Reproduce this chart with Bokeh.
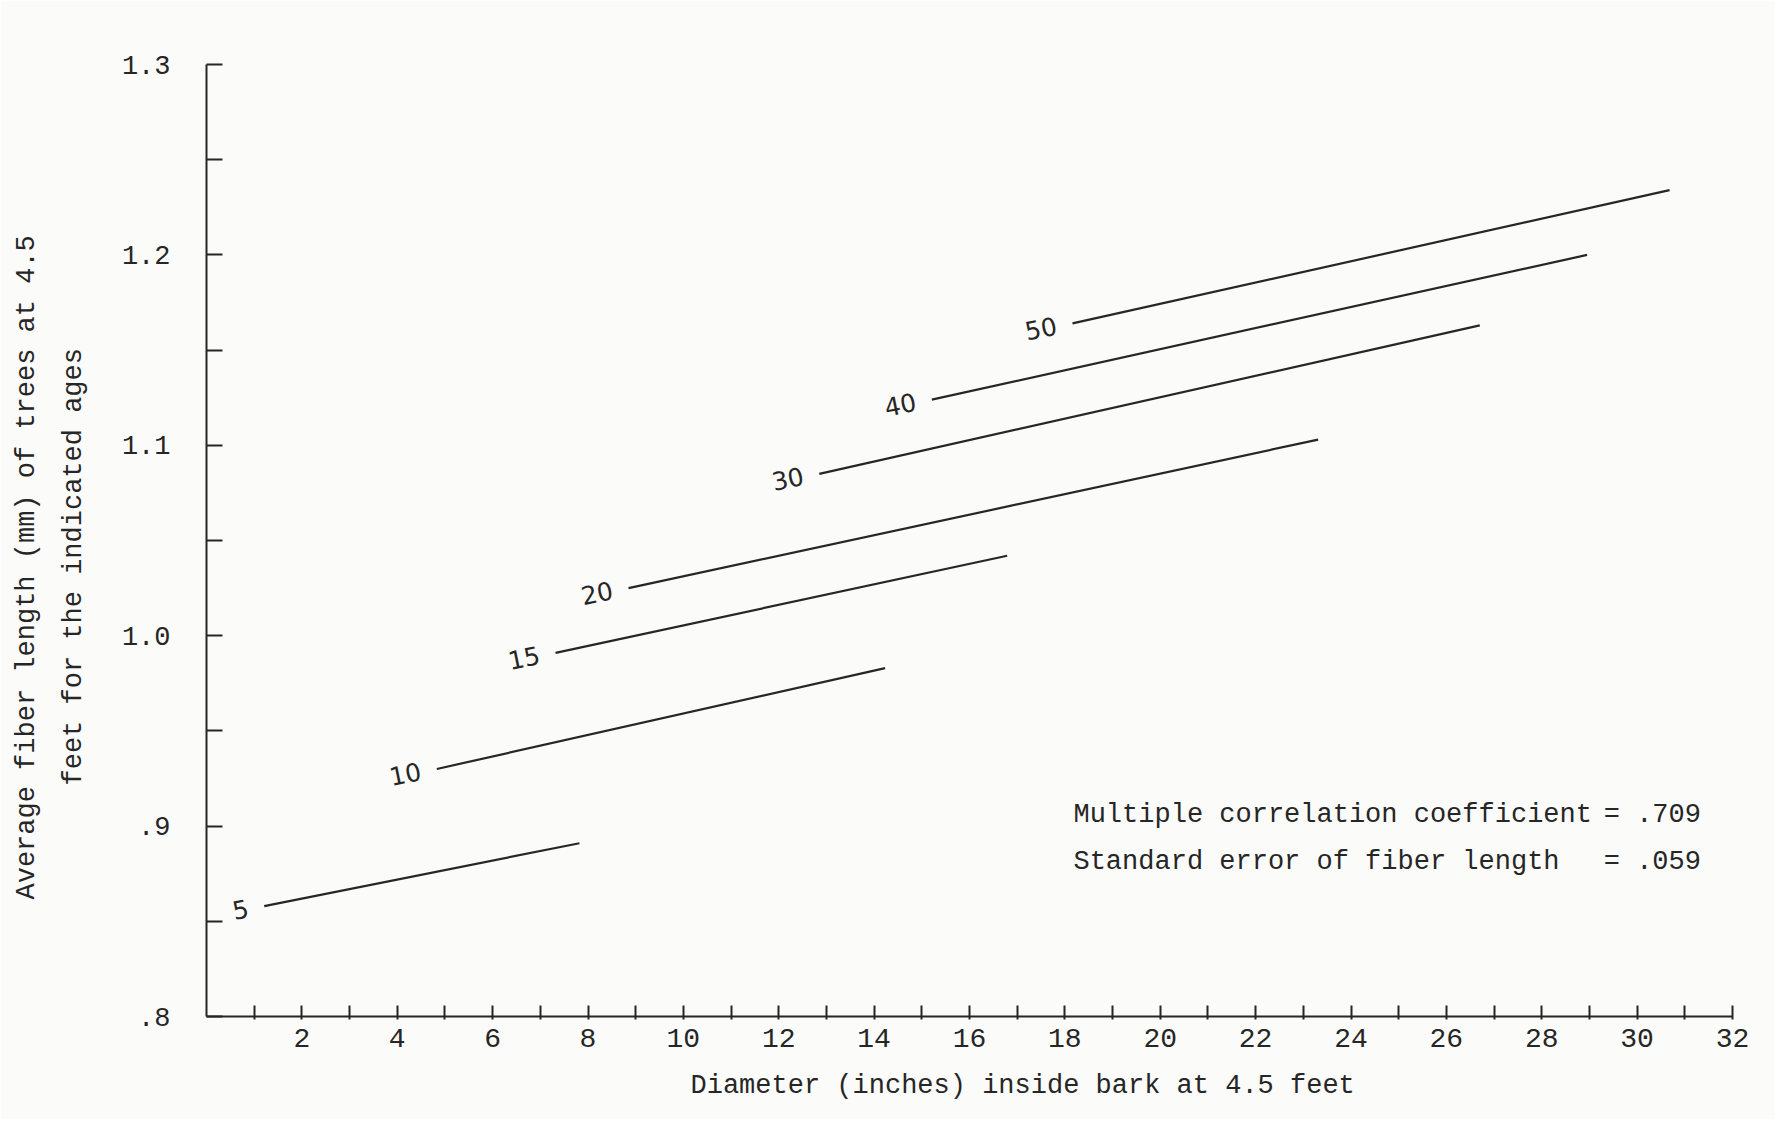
import math
from bokeh.plotting import figure
from bokeh.models import Range1d, FixedTicker, Label, ColumnDataSource, Title
from bokeh.core.properties import value
from bokeh.embed import file_html
from bokeh.resources import INLINE

# ---- data ----
ages = ["5", "10", "15", "20", "30", "40", "50"]
x_start = [1.21, 4.83, 7.32, 8.85, 12.85, 15.21, 18.16]
x_end = [7.82, 14.23, 16.79, 23.31, 26.70, 28.95, 30.68]
y_start = [0.858, 0.930, 0.991, 1.025, 1.085, 1.124, 1.164]
y_end = [0.891, 0.983, 1.042, 1.103, 1.163, 1.200, 1.234]

y_ticks = [0.8, 0.9, 1.0, 1.1, 1.2, 1.3]
y_tick_labels = [".8", ".9", "1.0", "1.1", "1.2", "1.3"]
y_minor = [0.85, 0.95, 1.05, 1.15, 1.25]
x_ticks = [2, 4, 6, 8, 10, 12, 14, 16, 18, 20, 22, 24, 26, 28, 30, 32]
x_minor = [1, 3, 5, 7, 9, 11, 13, 15, 17, 19, 21, 23, 25, 27, 29, 31]

stat_names = ["Multiple correlation coefficient", "Standard error of fiber length"]
stat_values = [".709", ".059"]

x_title = "Diameter (inches) inside bark at 4.5 feet"
y_title_lines = ["Average fiber length (mm) of trees at 4.5", "feet for the indicated ages"]

# ---- style ----
FONT = "Liberation Mono"
INK = "#262626"
PAPER = "#fbfbf9"

p = figure(width=1774, height=1119, output_backend="svg", toolbar_location=None,
           x_range=Range1d(0, 32), y_range=Range1d(0.8, 1.3),
           min_border_left=206, min_border_right=42, min_border_top=64,
           min_border_bottom=101)
p.background_fill_color = PAPER
p.border_fill_color = PAPER
p.outline_line_color = None
p.xgrid.visible = False
p.ygrid.visible = False

# axes
xa = p.xaxis[0]
xa.ticker = FixedTicker(ticks=x_ticks, minor_ticks=x_minor)
xa.axis_line_color = INK
xa.axis_line_width = 2
xa.major_tick_line_color = INK
xa.minor_tick_line_color = INK
xa.major_tick_line_width = 2
xa.minor_tick_line_width = 2
xa.major_tick_in = 11
xa.major_tick_out = 3
xa.minor_tick_in = 11
xa.minor_tick_out = 3
xa.major_label_standoff = 9
xa.major_label_text_font = FONT
xa.major_label_text_font_size = "28px"
xa.major_label_text_color = INK

ya = p.yaxis[0]
ya.ticker = FixedTicker(ticks=y_ticks, minor_ticks=y_minor)
ya.major_label_overrides = {t: l for t, l in zip(y_ticks, y_tick_labels)}
ya.axis_line_color = INK
ya.axis_line_width = 2
ya.major_tick_line_color = INK
ya.minor_tick_line_color = INK
ya.major_tick_line_width = 2
ya.minor_tick_line_width = 2
ya.major_tick_in = 16
ya.major_tick_out = 0
ya.minor_tick_in = 16
ya.minor_tick_out = 0
ya.major_label_standoff = 36
ya.major_label_text_font = FONT
ya.major_label_text_font_size = "27px"
ya.major_label_text_color = INK

# axis titles as side titles (positioned along the frame)
p.add_layout(Title(text=x_title, align="left", offset=484, standoff=38,
                   text_font=FONT, text_font_size="27px", text_font_style="normal",
                   text_color=INK), "below")
# second line first (closest to the axis), then first line
p.add_layout(Title(text=y_title_lines[1], align="left", offset=231, standoff=60,
                   text_font=FONT, text_font_size="27px", text_font_style="normal",
                   text_color=INK), "left")
p.add_layout(Title(text=y_title_lines[0], align="left", offset=117, standoff=-30,
                   text_font=FONT, text_font_size="27px", text_font_style="normal",
                   text_color=INK), "left")

# regression lines for each age
src = ColumnDataSource(dict(xs=[[a, b] for a, b in zip(x_start, x_end)],
                            ys=[[a, b] for a, b in zip(y_start, y_end)],
                            x0=x_start, y0=y_start, age=ages))
p.multi_line(xs="xs", ys="ys", source=src, line_color=INK, line_width=2.2)
p.text(x="x0", y="y0", text="age", source=src, x_offset=-16, y_offset=2,
       angle=0.2, text_align="right", text_baseline="middle",
       text_font=value("DejaVu Sans"), text_font_size="25px", text_color=INK)

# statistics text
for i, (nm, val) in enumerate(zip(stat_names, stat_values)):
    yy = 0.906 - 0.025 * i
    p.add_layout(Label(x=18.18, y=yy, text=nm, text_font=FONT, text_font_size="27px",
                       text_color=INK, text_baseline="middle", text_align="left"))
    p.add_layout(Label(x=29.3, y=yy, text="= " + val, text_font=FONT,
                       text_font_size="27px", text_color=INK,
                       text_baseline="middle", text_align="left"))

open("out.html", "w").write(file_html(p, INLINE))
